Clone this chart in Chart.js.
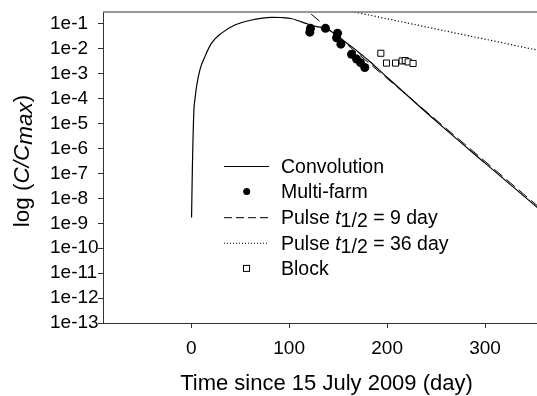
<!DOCTYPE html>
<html>
<head>
<meta charset="utf-8">
<script src="https://cdn.jsdelivr.net/npm/chart.js@4.4.0/dist/chart.umd.min.js"></script>
<style>
  html, body { margin: 0; padding: 0; background: #fff; overflow: hidden; }
</style>
</head>
<body>
<canvas id="chart" width="537" height="396"></canvas>
<script>
const FONT = '"Liberation Sans", Arial, sans-serif';

// Convolution model curve
const convDays = [0.4, 1.2, 2.8, 3.8, 5.5, 8.9, 14, 20.8, 31, 44.6, 61.6, 82, 92, 102, 110, 119, 128, 137, 147, 157, 166, 174, 182, 190, 250, 300, 355];
const convValues = [1.7e-9, 1.4e-7, 3.6e-5, 9e-5, 3.1e-4, 1.45e-3, 4.9e-3, 0.017, 0.043, 0.091, 0.145, 0.186, 0.182, 0.166, 0.132, 0.1, 0.079, 0.066, 0.04, 0.0195, 0.0105, 5.8e-3, 3.2e-3, 1.66e-3, 1.26e-5, 2.6e-7, 3.8e-9];

// Multi-farm observations
const farmDays = [121.1, 121.8, 137.1, 148.4, 149.4, 152.8, 163.7, 168.8, 172.9, 177.2];
const farmValues = [0.047, 0.067, 0.067, 0.028, 0.043, 0.0155, 0.0061, 0.0039, 0.0028, 0.0018];

// Block observations
const blockDays = [193.6, 199.4, 208.6, 215.3, 218.5, 221.5, 226.5];
const blockValues = [0.0067, 0.0027, 0.0027, 0.0033, 0.0034, 0.003, 0.0026];

// Pulse decay lines (straight on log axis)
const pulse9Days = [110, 355];
const pulse9Values = [0.65, 4.5e-9];
const pulse36Days = [160, 355];
const pulse36Values = [0.344, 0.0087];

const xTicks = [0, 100, 200, 300];
const yTicks = [1e-13, 1e-12, 1e-11, 1e-10, 1e-9, 1e-8, 1e-7, 1e-6, 1e-5, 1e-4, 1e-3, 1e-2, 1e-1];
const yTickLabels = ['1e-13', '1e-12', '1e-11', '1e-10', '1e-9', '1e-8', '1e-7', '1e-6', '1e-5', '1e-4', '1e-3', '1e-2', '1e-1'];

const toPoints = (xs, ys) => xs.map((x, i) => ({ x: x, y: ys[i] }));

// draw a run of text pieces (normal / italic / lowered), returns width
function drawParts(ctx, x, y, parts, size, measureOnly) {
    let cx = x;
    parts.forEach(p => {
        ctx.font = (p.italic ? 'italic ' : '') + size + 'px ' + FONT;
        if (!measureOnly) ctx.fillText(p.text, cx, y + (p.dy || 0));
        cx += ctx.measureText(p.text).width;
    });
    return cx - x;
}

const legendItems = [
    { kind: 'line', dash: [], parts: [{ text: 'Convolution' }] },
    { kind: 'dot', parts: [{ text: 'Multi-farm' }] },
    { kind: 'line', dash: [8, 4], parts: [{ text: 'Pulse ' }, { text: 't', italic: true }, { text: '1/2', dy: 3.5 }, { text: ' = 9 day' }] },
    { kind: 'line', dash: [1, 2], parts: [{ text: 'Pulse ' }, { text: 't', italic: true }, { text: '1/2', dy: 3.5 }, { text: ' = 36 day' }] },
    { kind: 'square', parts: [{ text: 'Block' }] }
];

const decorations = {
    id: 'decorations',
    afterDraw(chart) {
        const ctx = chart.ctx;
        const area = chart.chartArea;
        ctx.save();
        ctx.fillStyle = '#000';
        ctx.textBaseline = 'alphabetic';
        ctx.textAlign = 'left';

        // top frame line
        ctx.strokeStyle = '#777';
        ctx.lineWidth = 1.5;
        ctx.beginPath();
        ctx.moveTo(area.left, area.top);
        ctx.lineTo(area.right, area.top);
        ctx.stroke();

        // x axis title
        const xParts = [{ text: 'Time since 15 July 2009 (day)' }];
        const xw = drawParts(ctx, 0, 0, xParts, 22, true);
        drawParts(ctx, 326.5 - xw / 2, 390, xParts, 22);

        // y axis title
        const yParts = [{ text: 'log (' }, { text: 'C/C', italic: true }, { text: 'max', italic: true, dy: 3.5 }, { text: ')' }];
        ctx.save();
        ctx.translate(28.5, 161);
        ctx.rotate(-Math.PI / 2);
        const yw = drawParts(ctx, 0, 0, yParts, 22.5, true);
        drawParts(ctx, -yw / 2, 0, yParts, 22.5);
        ctx.restore();

        // legend
        legendItems.forEach((item, i) => {
            const base = 172.7 + i * 25.6;
            const cy = base - 6.7;
            ctx.strokeStyle = '#000';
            ctx.fillStyle = '#000';
            if (item.kind === 'line') {
                ctx.lineWidth = 1;
                ctx.setLineDash(item.dash);
                ctx.beginPath();
                ctx.moveTo(224, cy + 0.5);
                ctx.lineTo(269, cy + 0.5);
                ctx.stroke();
                ctx.setLineDash([]);
            } else if (item.kind === 'dot') {
                ctx.beginPath();
                ctx.arc(246.7, cy, 3.5, 0, Math.PI * 2);
                ctx.fill();
            } else {
                ctx.lineWidth = 1;
                ctx.strokeRect(243.5, cy - 3, 6, 6);
            }
            drawParts(ctx, 281, base, item.parts, 19.5);
        });
        ctx.restore();
    }
};

new Chart(document.getElementById('chart'), {
    type: 'scatter',
    data: {
        datasets: [
            {
                label: 'Multi-farm',
                data: toPoints(farmDays, farmValues),
                pointStyle: 'circle',
                pointRadius: 4.5,
                backgroundColor: '#000',
                borderColor: '#000',
                borderWidth: 0,
                order: 0
            },
            {
                label: 'Block',
                data: toPoints(blockDays, blockValues),
                pointStyle: 'rect',
                pointRadius: 4.3,
                backgroundColor: '#fff',
                borderColor: '#000',
                borderWidth: 1,
                order: 1
            },
            {
                label: 'Convolution',
                data: toPoints(convDays, convValues),
                showLine: true,
                pointRadius: 0,
                borderColor: '#000',
                borderWidth: 1.2,
                cubicInterpolationMode: 'monotone',
                order: 2
            },
            {
                label: 'Pulse t1/2 = 9 day',
                data: toPoints(pulse9Days, pulse9Values),
                showLine: true,
                pointRadius: 0,
                borderColor: '#000',
                borderWidth: 1,
                borderDash: [11, 5],
                order: 3
            },
            {
                label: 'Pulse t1/2 = 36 day',
                data: toPoints(pulse36Days, pulse36Values),
                showLine: true,
                pointRadius: 0,
                borderColor: '#000',
                borderWidth: 1.2,
                borderDash: [1.2, 2.2],
                order: 4
            }
        ]
    },
    options: {
        responsive: false,
        animation: false,
        devicePixelRatio: 1,
        layout: { autoPadding: false, padding: { left: 50, top: 12, right: 0, bottom: 0 } },
        plugins: {
            legend: { display: false },
            tooltip: { enabled: false }
        },
        scales: {
            x: {
                type: 'linear',
                min: -90,
                max: 353,
                afterBuildTicks: scale => { scale.ticks = xTicks.map(v => ({ value: v })); },
                afterFit: scale => {
                    scale.height = 73;
                    scale.paddingLeft = 0;
                    scale.paddingRight = 0;
                },
                grid: { drawOnChartArea: false, drawTicks: true, tickLength: 5, color: '#333' },
                border: { display: true, color: '#333', width: 1 },
                ticks: {
                    autoSkip: false,
                    maxRotation: 0,
                    padding: 11,
                    color: '#000',
                    font: { family: FONT, size: 19, lineHeight: 1 }
                }
            },
            y: {
                type: 'logarithmic',
                min: 1e-13,
                max: 0.303,
                afterBuildTicks: scale => { scale.ticks = yTicks.map(v => ({ value: v })); },
                afterFit: scale => {
                    scale.width = 53;
                    scale.paddingTop = 0;
                    scale.paddingBottom = 0;
                },
                grid: { drawOnChartArea: false, drawTicks: true, tickLength: 5, color: '#333' },
                border: { display: true, color: '#333', width: 1 },
                ticks: {
                    autoSkip: false,
                    crossAlign: 'far',
                    color: '#000',
                    font: { family: FONT, size: 19, lineHeight: 1 },
                    callback: (value, index) => yTickLabels[index]
                }
            }
        }
    },
    plugins: [decorations]
});
</script>
</body>
</html>
